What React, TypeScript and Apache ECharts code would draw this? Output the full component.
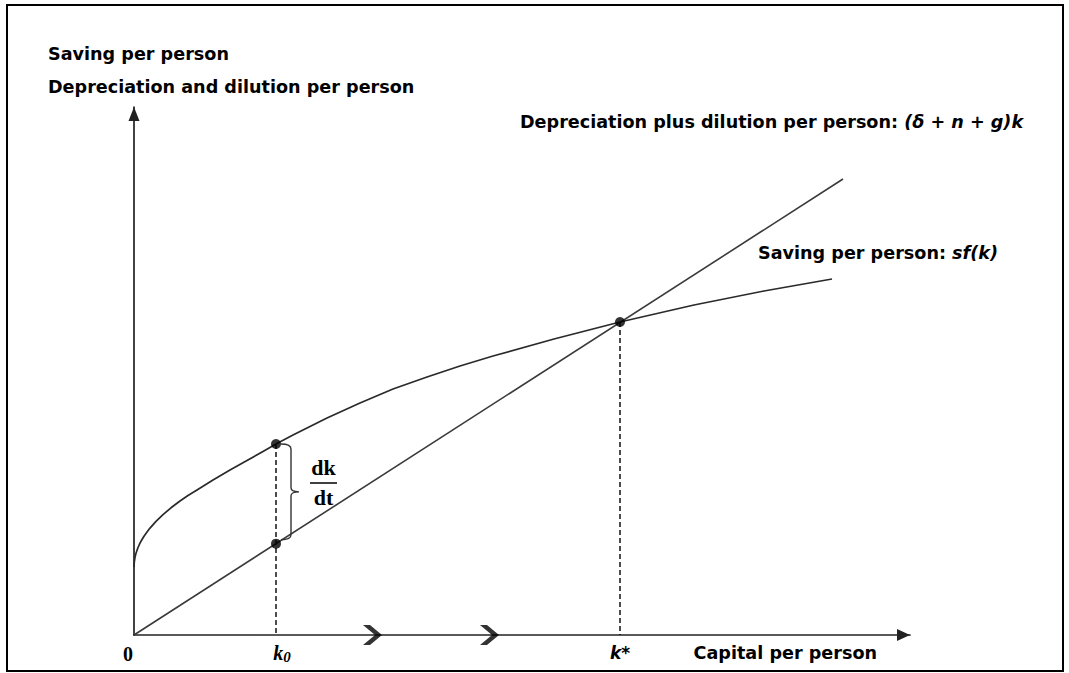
import React, { useEffect, useRef } from 'react';
import * as echarts from 'echarts';

// Axis extents (abstract units)
const kAxisMax = 776;
const yAxisMax = 528;

// Depreciation plus dilution line: (δ + n + g)k
const depreciationLine: number[][] = [
  [0, 0],
  [709, 456],
];

// Saving per person curve: sf(k)
const savingCurve: number[][] = [
  [0, 68], [0.3, 73], [1, 77.7], [2, 81.8], [4, 87.5], [6, 91.8], [8, 95.5],
  [10, 98.8], [13, 103], [16, 106.9], [22, 113.6], [29, 120.4], [37, 127.2],
  [46, 134], [54, 139.5], [63, 145], [71, 150], [79, 155], [96, 165],
  [113, 174.5], [129, 183.5], [142, 191], [159, 200], [193, 217], [226, 232],
  [259, 246], [293, 258], [326, 269], [359, 279], [420, 296], [486, 313],
  [560, 330], [630, 344], [698, 356],
];

const k0 = 142;
const kStar = 486;
const savingAtK0 = 191;
const deprAtK0 = 91.3;
const valueAtKStar = 313;

const chevronPositions = [238.5, 355.5];
const tickValues = [0, k0, kStar];

const SANS = 'DejaVu Sans';
const SERIF = 'Liberation Serif';
const FS = 17.6;

export default function App() {
  const ref = useRef<HTMLDivElement>(null);

  useEffect(() => {
    document.body.style.margin = '0';
    const chart = echarts.init(ref.current!, null, { renderer: 'svg' });

    const option: any = {
      animation: false,
      backgroundColor: '#fff',
      grid: { left: 134, top: 107, width: 776, height: 528, containLabel: false },
      xAxis: {
        type: 'value',
        min: 0,
        max: kAxisMax,
        splitLine: { show: false },
        axisTick: { show: false },
        axisLine: {
          show: true,
          symbol: ['none', 'triangle'],
          symbolSize: [12, 13],
          symbolOffset: [0, -6.5],
          lineStyle: { color: '#222', width: 1.7 },
        },
        axisLabel: {
          show: true,
          customValues: tickValues,
          margin: 7,
          formatter: (v: number) => {
            if (v === 0) return '{zero|0}';
            if (v === k0) return '{k|k}{sub|0}';
            return '{ks|k*}';
          },
          rich: {
            zero: { fontFamily: SERIF, fontWeight: 'bold', fontSize: 20, color: '#000', padding: [2, 12, 0, 0], lineHeight: 22 },
            k: { fontFamily: SERIF, fontWeight: 'bold', fontStyle: 'italic', fontSize: 20, color: '#000', padding: [0, 0, 0, 12], lineHeight: 22 },
            sub: { fontFamily: SERIF, fontWeight: 'bold', fontStyle: 'italic', fontSize: 15, color: '#000', lineHeight: 22, verticalAlign: 'bottom' },
            ks: { fontFamily: SANS, fontWeight: 'bold', fontStyle: 'italic', fontSize: 17, color: '#000', lineHeight: 22 },
          },
        },
      },
      yAxis: {
        type: 'value',
        min: 0,
        max: yAxisMax,
        splitLine: { show: false },
        axisTick: { show: false },
        axisLabel: { show: false },
        axisLine: {
          show: true,
          symbol: ['none', 'triangle'],
          symbolSize: [11, 14],
          symbolOffset: [0, -7],
          lineStyle: { color: '#222', width: 1.7 },
        },
      },
      series: [
        {
          type: 'line',
          name: 'Depreciation plus dilution',
          data: depreciationLine,
          showSymbol: false,
          lineStyle: { color: '#3a3a3a', width: 1.6 },
          z: 3,
        },
        {
          type: 'line',
          name: 'Saving',
          data: savingCurve,
          smooth: false,
          showSymbol: false,
          lineStyle: { color: '#2a2a2a', width: 1.7, join: 'round' },
          z: 3,
        },
        {
          type: 'line',
          data: [[k0, savingAtK0], [k0, 0]],
          showSymbol: false,
          lineStyle: { color: '#000', width: 1.4, type: [5, 3] },
          z: 2,
        },
        {
          type: 'line',
          data: [[kStar, valueAtKStar], [kStar, 0]],
          showSymbol: false,
          lineStyle: { color: '#000', width: 1.4, type: [5, 3] },
          z: 2,
        },
        {
          type: 'scatter',
          data: [[k0, savingAtK0], [k0, deprAtK0], [kStar, valueAtKStar]],
          symbol: 'circle',
          symbolSize: 10,
          itemStyle: { color: '#000' },
          clip: false,
          z: 5,
        },
        {
          type: 'scatter',
          data: chevronPositions.map((x) => [x, 0]),
          symbol: 'path://M0,0 L7,0 L19,10 L7,20 L0,20 L12,10 Z',
          symbolSize: [19, 20],
          itemStyle: { color: '#000' },
          clip: false,
          z: 6,
        },
        {
          type: 'custom',
          data: [[k0, savingAtK0, deprAtK0]],
          clip: false,
          z: 4,
          renderItem: (_params: any, api: any) => {
            const top = api.coord([api.value(0), api.value(1)]);
            const bot = api.coord([api.value(0), api.value(2)]);
            const x0 = top[0] + 5;
            const x1 = top[0] + 15;
            const xt = x1 + 8;
            const y0 = top[1];
            const y1 = bot[1] - 4;
            const ym = (y0 + y1) / 2;
            const d =
              `M${x0},${y0} Q${x1},${y0} ${x1},${y0 + 5} L${x1},${ym - 4} Q${x1},${ym} ${xt},${ym} ` +
              `Q${x1},${ym} ${x1},${ym + 4} L${x1},${y1 - 5} Q${x1},${y1} ${x0},${y1}`;
            return {
              type: 'path',
              shape: { pathData: d },
              style: { stroke: '#333', fill: 'none', lineWidth: 1.4 },
            };
          },
        },
      ],
      graphic: [
        {
          type: 'rect',
          shape: { x: 7, y: 5, width: 1056, height: 666 },
          style: { fill: 'none', stroke: '#000', lineWidth: 2 },
          z: 0,
        },
        {
          type: 'text',
          x: 48,
          y: 54,
          style: { text: 'Saving per person', fontFamily: SANS, fontWeight: 'bold', fontSize: FS, fill: '#000', verticalAlign: 'middle', align: 'left' },
        },
        {
          type: 'text',
          x: 48,
          y: 87,
          style: { text: 'Depreciation and dilution per person', fontFamily: SANS, fontWeight: 'bold', fontSize: FS, fill: '#000', verticalAlign: 'middle', align: 'left' },
        },
        {
          type: 'text',
          x: 520,
          y: 122,
          style: {
            text: 'Depreciation plus dilution per person: {i|(δ + n + g)k}',
            fontFamily: SANS, fontWeight: 'bold', fontSize: FS, fill: '#000', verticalAlign: 'middle', align: 'left',
            rich: { i: { fontFamily: SANS, fontWeight: 'bold', fontStyle: 'italic', fontSize: FS, fill: '#000' } },
          },
        },
        {
          type: 'text',
          x: 758,
          y: 253,
          style: {
            text: 'Saving per person: {i|sf(k)}',
            fontFamily: SANS, fontWeight: 'bold', fontSize: FS, fill: '#000', verticalAlign: 'middle', align: 'left',
            rich: { i: { fontFamily: SANS, fontWeight: 'bold', fontStyle: 'italic', fontSize: FS, fill: '#000' } },
          },
        },
        {
          type: 'text',
          x: 877,
          y: 653,
          style: { text: 'Capital per person', fontFamily: SANS, fontWeight: 'bold', fontSize: FS, fill: '#000', verticalAlign: 'middle', align: 'right' },
        },
        {
          type: 'text',
          x: 323.5,
          y: 467,
          style: { text: 'dk', fontFamily: SERIF, fontWeight: 'bold', fontSize: 22, fill: '#000', verticalAlign: 'middle', align: 'center' },
        },
        {
          type: 'line',
          shape: { x1: 310, y1: 483, x2: 337, y2: 483 },
          style: { stroke: '#000', lineWidth: 1.5 },
        },
        {
          type: 'text',
          x: 323.5,
          y: 497,
          style: { text: 'dt', fontFamily: SERIF, fontWeight: 'bold', fontSize: 22, fill: '#000', verticalAlign: 'middle', align: 'center' },
        },
      ],
    };

    chart.setOption(option);
    return () => chart.dispose();
  }, []);

  return <div ref={ref} style={{ width: 1069, height: 673 }} />;
}
